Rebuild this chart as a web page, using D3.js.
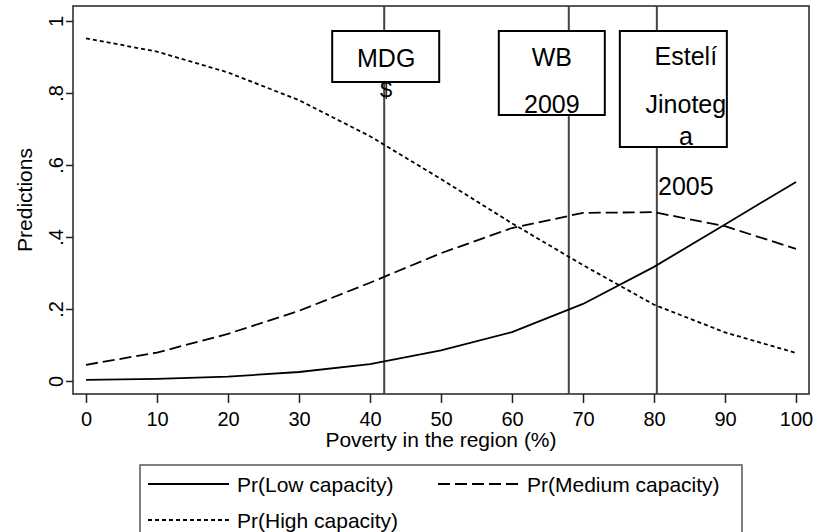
<!DOCTYPE html>
<html><head><meta charset="utf-8">
<script src="https://cdn.jsdelivr.net/npm/d3@7"></script>
<style>
body{margin:0;background:#fff}
text{font-family:"Liberation Sans",Arial,Helvetica,sans-serif;fill:#000}
</style>
</head><body>
<svg id="c" width="825" height="532"></svg>
<script>
// ---- data ----
const poverty = [0,10,20,30,40,50,60,70,80,90,100];
const prLow    = [0.003,0.006,0.012,0.025,0.047,0.085,0.136,0.214,0.317,0.435,0.553];
const prMedium = [0.045,0.079,0.131,0.195,0.273,0.355,0.425,0.467,0.469,0.430,0.367];
const prHigh   = [0.952,0.915,0.857,0.780,0.680,0.561,0.438,0.322,0.212,0.135,0.078];
const xTicks = [0,10,20,30,40,50,60,70,80,90,100];
const yTicks = [0,0.2,0.4,0.6,0.8,1];
const yTickLabels = ["0",".2",".4",".6",".8","1"];
const refValues = [42,68,80.4];
const refLabels = [["MDG","$"],["WB","2009"],["Estelí","Jinoteg","a","2005"]];
const seriesNames = ["Pr(Low capacity)","Pr(Medium capacity)","Pr(High capacity)"];
const xTitle = "Poverty in the region (%)";
const yTitle = "Predictions";

// ---- layout ----
const svg = d3.select("#c");
const frame = {x0:73, y0:6, x1:809, y1:394};
const x = d3.scaleLinear().domain([0,100]).range([86,796]);
const y = d3.scaleLinear().domain([0,1]).range([381,21]);

// box layout relative to each reference line (pixels)
const boxLayout = [
  {dx:-52, w:107, h:51,  tdx:0.5,  base:[67,97],  size:[25,22]},
  {dx:-70, w:106, h:84,  tdx:0, base:[66,113], size:[25,25]},
  {dx:-37, w:107, h:116, tdx:12.5, base:[65,113,145,195], size:[25,25,25,25]}
];

// frame
svg.append("rect").attr("x",frame.x0).attr("y",frame.y0)
  .attr("width",frame.x1-frame.x0).attr("height",frame.y1-frame.y0)
  .attr("fill","none").attr("stroke","#222").attr("stroke-width",1.5);

// x axis
const gx = svg.append("g").attr("transform",`translate(0,${frame.y1})`)
  .call(d3.axisBottom(x).tickValues(xTicks).tickSize(9).tickSizeOuter(0).tickPadding(9));
gx.select(".domain").remove();
gx.selectAll("line").attr("stroke","#222").attr("stroke-width",1.5);
gx.selectAll("text").style("font-size","20px").attr("font-family",null);

// y axis
const gy = svg.append("g").attr("transform",`translate(${frame.x0},0)`)
  .call(d3.axisLeft(y).tickValues(yTicks).tickFormat((d,i)=>yTickLabels[i]).tickSize(7).tickSizeOuter(0));
gy.select(".domain").remove();
gy.selectAll("line").attr("stroke","#222").attr("stroke-width",1.5);
gy.selectAll("text").style("font-size","20px")
  .attr("x",null).attr("dy",null).attr("text-anchor","middle")
  .attr("transform","translate(-10,0) rotate(-90)");

// titles
svg.append("text").attr("x",(frame.x0+frame.x1)/2).attr("y",447)
  .attr("text-anchor","middle").style("font-size","21px").text(xTitle);
svg.append("text").attr("transform",`translate(32,${(frame.y0+frame.y1)/2}) rotate(-90)`)
  .attr("text-anchor","middle").style("font-size","21px").text(yTitle);

// reference lines
svg.selectAll(".ref").data(refValues).join("line").attr("class","ref")
  .attr("x1",d=>x(d)).attr("x2",d=>x(d)).attr("y1",frame.y0).attr("y2",frame.y1)
  .attr("stroke","#444").attr("stroke-width",2);

// curves
const series = [
  {vals:prLow, dash:null},
  {vals:prMedium, dash:"12,5"},
  {vals:prHigh, dash:"4,3"}
];
const line = d3.line().x((d,i)=>x(poverty[i])).y(d=>y(d));
series.forEach(s=>{
  svg.append("path").datum(s.vals).attr("d",line)
    .attr("fill","none").attr("stroke","#000").attr("stroke-width",1.8)
    .attr("stroke-dasharray",s.dash);
});

// annotation boxes
refValues.forEach((v,i)=>{
  const L = boxLayout[i], cx = x(v);
  svg.append("rect").attr("x",cx+L.dx).attr("y",31).attr("width",L.w).attr("height",L.h)
    .attr("fill","#fff").attr("stroke","#000").attr("stroke-width",2);
  const tcx = cx + L.dx + L.w/2 + L.tdx;
  refLabels[i].forEach((t,j)=>{
    svg.append("text").attr("x",tcx).attr("y",L.base[j]).attr("text-anchor","middle")
      .style("font-size",L.size[j]+"px").text(t);
  });
});

// legend
svg.append("rect").attr("x",140).attr("y",465).attr("width",602).attr("height",100)
  .attr("fill","#fff").attr("stroke","#555").attr("stroke-width",1.5);
const legItems = [
  {x:148, y:484, dash:null},
  {x:438, y:484, dash:"12,5"},
  {x:148, y:520, dash:"4,3"}
];
legItems.forEach((L,i)=>{
  svg.append("line").attr("x1",L.x).attr("x2",L.x+81).attr("y1",L.y).attr("y2",L.y)
    .attr("stroke","#000").attr("stroke-width",1.8).attr("stroke-dasharray",L.dash);
  svg.append("text").attr("x",L.x+89).attr("y",L.y+8).style("font-size","21px").text(seriesNames[i]);
});
</script>
</body></html>
